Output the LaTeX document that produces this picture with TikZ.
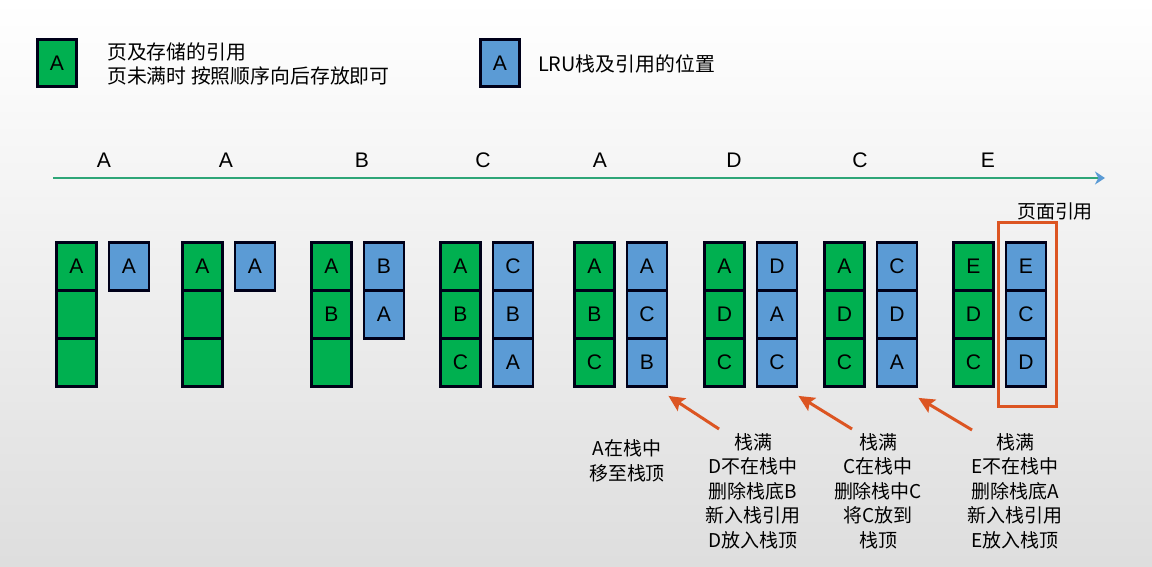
\documentclass[tikz,border=0pt]{standalone}
\usepackage{fontspec}
\setmainfont{Liberation Sans}
\newfontfamily\cjk{Noto Sans CJK SC}
\usetikzlibrary{arrows.meta,fit}
\definecolor{pagegreen}{HTML}{00B050}
\definecolor{lrublue}{HTML}{5B9BD5}
\definecolor{noteorange}{HTML}{DC5522}
\definecolor{timeteal}{HTML}{2EA678}

\tikzset{
  pagecell/.style={draw=black!90!blue, fill=pagegreen, line width=1.6pt, inner sep=0pt,
    minimum width=0.8cm, minimum height=0.96cm, font=\fontsize{12}{12}\selectfont},
  lrucell/.style={pagecell, fill=lrublue},
  refname/.style={font=\fontsize{12}{12}\selectfont},
  note/.style={align=center, font=\cjk\fontsize{10.8}{13.9}\selectfont},
  notearrow/.style={draw=noteorange, line width=1.7pt,
    -{Stealth[length=0.32cm, width=0.3cm, inset=0.06cm]}},
}

\begin{document}
\begin{tikzpicture}[x=0.02cm, y=-0.02cm]
    \shade[top color=white, middle color=black!3, bottom color=black!13]
      (0,0) rectangle (1152,567);
    \useasboundingbox (0,0) rectangle (1152,567);

    %Legend
    \node[pagecell, minimum width=0.78cm, minimum height=0.94cm] (keypage) at (57,63) {A};
    \node[note, anchor=west, align=left, font=\cjk\fontsize{11.3}{13.6}\selectfont]
      (keypagetext) at (101,64) {页及存储的引用\\页未满时 按照顺序向后存放即可};
    \node[lrucell, minimum width=0.78cm, minimum height=0.94cm] (keylru) at (500,63) {A};
    \node[note, anchor=west, font=\cjk\fontsize{11.3}{13.6}\selectfont]
      (keylrutext) at (532,64) {LRU栈及引用的位置};

    %Time line
    \coordinate (tstart) at (53,178);
    \coordinate (tend) at (1105,178);
    \draw[timeteal, line width=1.5pt,
      -{Stealth[length=0.2cm, width=0.26cm, color=lrublue]}] (tstart) -- (tend);
    \node[refname] (ref1) at (104,160) {A};
    \node[refname] (ref2) at (226,160) {A};
    \node[refname] (ref3) at (362,160) {B};
    \node[refname] (ref4) at (483,160) {C};
    \node[refname] (ref5) at (600,160) {A};
    \node[refname] (ref6) at (734,160) {D};
    \node[refname] (ref7) at (860,160) {C};
    \node[refname] (ref8) at (988,160) {E};

    %Pages and LRU stack
    \foreach \n/\x/\gs/\bs in {1/55/{A,{},{}}/{A}, 2/181/{A,{},{}}/{A},
        3/310/{A,B,{}}/{B,A}, 4/439/{A,B,C}/{C,B,A}, 5/573/{A,B,C}/{A,C,B},
        6/703/{A,D,C}/{D,A,C}, 7/823/{A,D,C}/{C,D,A}, 8/952/{E,D,C}/{E,C,D}}
    {
      \foreach \t [count=\k] in \gs
        \node[pagecell] (g\n-\k) at (\x+21.5, 218.5+48*\k) {\t};
      \foreach \t [count=\k] in \bs
        \node[lrucell] (b\n-\k) at (\x+74, 218.5+48*\k) {\t};
    }

    %Page reference
    \node[fit=(b8-1)(b8-3), draw=noteorange, line width=1.6pt, inner sep=0pt,
      inner xsep=0.15cm, inner ysep=0.37cm, xshift=0.03cm] (refbox) {};
    \node[note] (refboxtext) at (1055,211) {页面引用};

    %Notes
    \node[note] (note5) at (627,461) {A在栈中\\移至栈顶};
    \node[note] (note6) at (753,491) {栈满\\D不在栈中\\删除栈底B\\新入栈引用\\D放入栈顶};
    \node[note] (note7) at (878,491) {栈满\\C在栈中\\删除栈中C\\将C放到\\栈顶};
    \node[note] (note8) at (1015,491) {栈满\\E不在栈中\\删除栈底A\\新入栈引用\\E放入栈顶};
    \coordinate (tail6) at (719,429);
    \coordinate (tail7) at (852,429);
    \coordinate (tail8) at (972,430);
    \draw[notearrow] (tail6) -- ([yshift=-0.16cm]b5-3.south east);
    \draw[notearrow] (tail7) -- ([yshift=-0.16cm]b6-3.south east);
    \draw[notearrow] (tail8) -- ([yshift=-0.2cm]b7-3.south east);
\end{tikzpicture}
\end{document}
